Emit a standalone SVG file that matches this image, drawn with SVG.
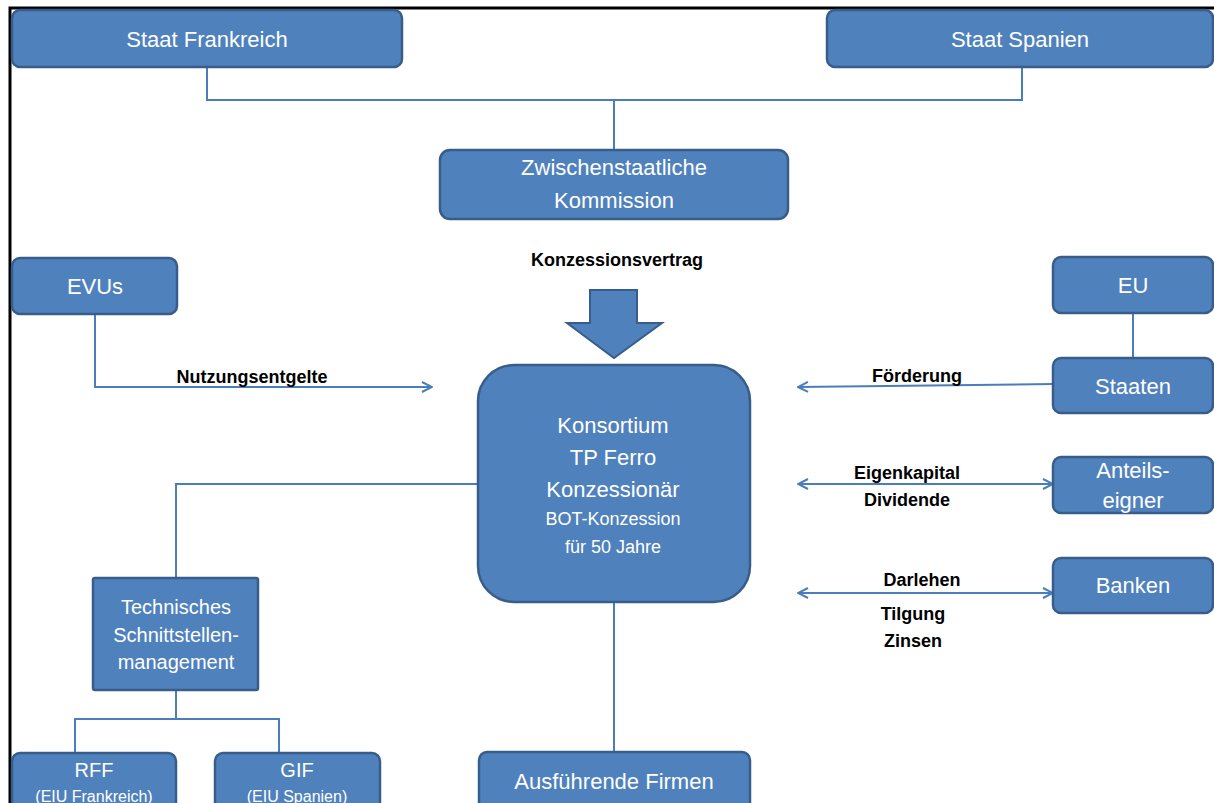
<svg xmlns="http://www.w3.org/2000/svg" width="1214" height="803" viewBox="0 0 1214 803">
<style>
.n{fill:#4F81BD;stroke:#385D8A;stroke-width:2.5}
.t{fill:#fff;font-family:"Liberation Sans",Arial,sans-serif;text-anchor:middle}
.l{fill:#000;font-family:"Liberation Sans",Arial,sans-serif;font-weight:bold;font-size:18px;text-anchor:middle}
.c{fill:none;stroke:#4A7EBB;stroke-width:2}
</style>
<defs>
<marker id="ah" viewBox="0 0 12 12" refX="11" refY="6" markerWidth="12" markerHeight="12" markerUnits="userSpaceOnUse" orient="auto-start-reverse">
<path d="M1,1 L11,6 L1,11" fill="none" stroke="#4A7EBB" stroke-width="2"/>
</marker>
</defs>
<rect width="1214" height="803" fill="#fff"/>
<path d="M10,803 V8 H1214" fill="none" stroke="#000" stroke-width="3"/>
<g id="connectors">
<path class="c" d="M207,67 V100 H1022 V67"/>
<path class="c" d="M614,100 V150"/>
<path class="c" d="M95,314 V387 H432" marker-end="url(#ah)"/>
<path class="c" d="M1133,313 V358"/>
<path class="c" d="M1053,384 L798,387" marker-end="url(#ah)"/>
<path class="c" d="M798,484 H1053" marker-start="url(#ah)" marker-end="url(#ah)"/>
<path class="c" d="M798,593 H1053" marker-start="url(#ah)" marker-end="url(#ah)"/>
<path class="c" d="M478,484 H176 V578"/>
<path class="c" d="M176,690 V719 M75,753 V719 H279 V753"/>
<path class="c" d="M614,602 V752"/>
<path d="M590,290 H637 V323 H662 L614,358 L567,323 H590 Z" fill="#4F81BD" stroke="#385D8A" stroke-width="2"/>
</g>
<g id="labels">
<text class="l" x="617" y="266">Konzessionsvertrag</text>
<text class="l" x="252" y="383">Nutzungsentgelte</text>
<text class="l" x="917" y="382">Förderung</text>
<text class="l" x="907" y="479">Eigenkapital</text>
<text class="l" x="907" y="506">Dividende</text>
<text class="l" x="922" y="586">Darlehen</text>
<text class="l" x="913" y="620">Tilgung</text>
<text class="l" x="913" y="647">Zinsen</text>
</g>
<g id="staat-frankreich"><rect class="n" x="12" y="10" width="390" height="57" rx="8"/><text class="t" x="207" y="47" font-size="22">Staat Frankreich</text></g>
<g id="staat-spanien"><rect class="n" x="827" y="10" width="386" height="57" rx="8"/><text class="t" x="1020" y="47" font-size="22">Staat Spanien</text></g>
<g id="kommission"><rect class="n" x="440" y="150" width="348" height="69" rx="10"/><text class="t" x="614" y="175" font-size="22">Zwischenstaatliche</text><text class="t" x="614" y="208" font-size="22">Kommission</text></g>
<g id="evus"><rect class="n" x="12" y="258" width="165" height="56" rx="8"/><text class="t" x="95" y="294" font-size="22">EVUs</text></g>
<g id="eu"><rect class="n" x="1053" y="257" width="160" height="56" rx="8"/><text class="t" x="1133" y="293" font-size="22">EU</text></g>
<g id="staaten"><rect class="n" x="1053" y="358" width="160" height="55" rx="8"/><text class="t" x="1133" y="394" font-size="22">Staaten</text></g>
<g id="konsortium"><rect class="n" x="478" y="365" width="272" height="237" rx="36"/>
<text class="t" x="613" y="433" font-size="22">Konsortium</text>
<text class="t" x="613" y="465" font-size="22">TP Ferro</text>
<text class="t" x="613" y="497" font-size="22">Konzessionär</text>
<text class="t" x="613" y="525" font-size="18">BOT-Konzession</text>
<text class="t" x="613" y="553" font-size="18">für 50 Jahre</text></g>
<g id="anteilseigner"><rect class="n" x="1053" y="457" width="160" height="56" rx="8"/><text class="t" x="1133" y="478" font-size="22">Anteils-</text><text class="t" x="1133" y="508" font-size="22">eigner</text></g>
<g id="banken"><rect class="n" x="1053" y="558" width="160" height="55" rx="8"/><text class="t" x="1133" y="593" font-size="22">Banken</text></g>
<g id="technisches"><rect class="n" x="93" y="578" width="165" height="112" rx="2"/>
<text class="t" x="176" y="614" font-size="20">Technisches</text>
<text class="t" x="176" y="642" font-size="20">Schnittstellen-</text>
<text class="t" x="176" y="669" font-size="20">management</text></g>
<g id="rff"><rect class="n" x="12" y="753" width="164" height="70" rx="8"/><text class="t" x="94" y="777" font-size="20">RFF</text><text class="t" x="94" y="802" font-size="16">(EIU Frankreich)</text></g>
<g id="gif"><rect class="n" x="215" y="753" width="165" height="70" rx="8"/><text class="t" x="297" y="777" font-size="20">GIF</text><text class="t" x="297" y="802" font-size="16">(EIU Spanien)</text></g>
<g id="ausfuehrende"><rect class="n" x="479" y="752" width="271" height="70" rx="8"/><text class="t" x="614" y="789" font-size="22">Ausführende Firmen</text></g>
</svg>
